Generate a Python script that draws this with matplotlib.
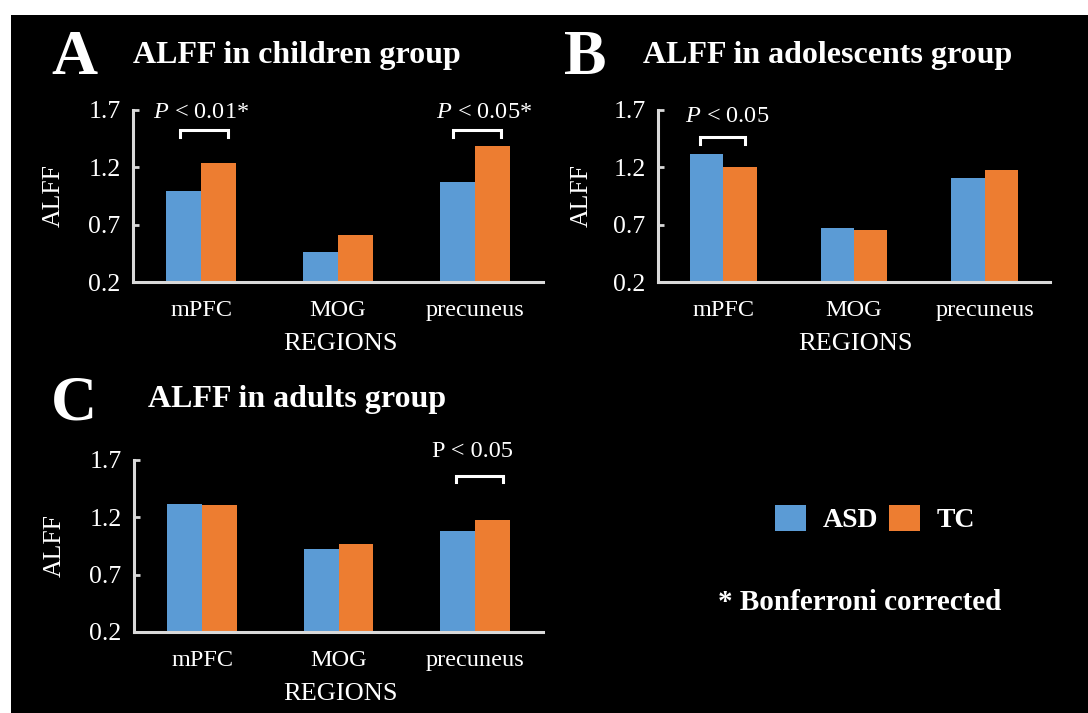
"""
ALFF by region in three age groups (ASD vs TC), black-background poster style.
"""

import numpy as np
import matplotlib
matplotlib.use('Agg')
import matplotlib.pyplot as plt
from matplotlib.patches import Rectangle

# data
regions = ['mPFC', 'MOG', 'precuneus']
children_asd = [0.99, 0.46, 1.07]
children_tc = [1.24, 0.61, 1.39]
adolescents_asd = [1.32, 0.67, 1.11]
adolescents_tc = [1.205, 0.65, 1.18]
adults_asd = [1.32, 0.92, 1.08]
adults_tc = [1.31, 0.97, 1.18]
yticks = [0.2, 0.7, 1.2, 1.7]

BLUE = '#5B9BD5'
ORANGE = '#ED7D31'
AXIS = '#D9D9D9'
W, H = 1088, 713

plt.rcParams['font.family'] = ['Liberation Serif', 'DejaVu Serif']
plt.rcParams['mathtext.fontset'] = 'custom'
plt.rcParams['mathtext.rm'] = 'Liberation Serif'
plt.rcParams['mathtext.it'] = 'Liberation Serif:italic'

fig = plt.figure(figsize=(W / 100, H / 100), dpi=100, facecolor='white')
# black poster background, white margin top/left
fig.patches.append(Rectangle((11 / W, 0), 1, 1 - 15 / H, transform=fig.transFigure,
                             facecolor='black', edgecolor='none', zorder=-10))


def px_axes(x0, x1, ytop, ybot):
    """Axes from pixel box (origin top-left)."""
    return fig.add_axes([x0 / W, 1 - ybot / H, (x1 - x0) / W, (ybot - ytop) / H])


def draw_panel(ax, asd, tc):
    x = np.arange(len(regions))
    bw = 0.255
    floor = yticks[0]
    bars_a = ax.bar(x - bw / 2, np.array(asd) - floor, bw, bottom=floor, color=BLUE, zorder=2)
    bars_t = ax.bar(x + bw / 2, np.array(tc) - floor, bw, bottom=floor, color=ORANGE, zorder=2)
    ax.set_xlim(-0.5, len(regions) - 0.5)
    ax.set_ylim(yticks[0], yticks[-1])
    ax.set_facecolor('none')
    for s in ['top', 'right']:
        ax.spines[s].set_visible(False)
    for s in ['left', 'bottom']:
        ax.spines[s].set_color(AXIS)
        ax.spines[s].set_linewidth(2.2)
    ax.set_yticks(yticks)
    ax.set_yticklabels([f'{v:.1f}' for v in yticks])
    ax.set_xticks(x)
    ax.set_xticklabels(regions)
    ax.tick_params(axis='y', direction='in', length=4.5, width=2, color=AXIS,
                   labelcolor='white', labelsize=18.5, pad=9)
    ax.tick_params(axis='x', length=0, labelcolor='white', labelsize=17.5, pad=13)
    ax.set_ylabel('ALFF', color='white', fontsize=18.5)
    ax.yaxis.set_label_coords(-0.166, 0.5)
    ax.set_xlabel('REGIONS', color='white', fontsize=19)
    ax.xaxis.label.set_va('center')
    ax.xaxis.set_label_coords(0.505, -0.36)
    return bars_a, bars_t


def bracket(ax, x0, x1, y, leg, label, ty, tx):
    ax.plot([x0, x0, x1, x1], [y - leg, y, y, y - leg], color='white', lw=2.2,
            clip_on=False, zorder=3, solid_joinstyle='miter')
    ax.text(tx, ty, label, color='white', fontsize=17.5, ha='center', va='center')


# A: children
axA = px_axes(133, 543, 110, 282)
hA = draw_panel(axA, children_asd, children_tc)
bracket(axA, -0.155, 0.195, 1.525, 0.06, r'$P$ < 0.01*', 1.675, 0.0)
bracket(axA, 1.845, 2.195, 1.525, 0.06, r'$P$ < 0.05*', 1.675, 2.07)

# B: adolescents
axB = px_axes(658, 1050, 110, 282)
draw_panel(axB, adolescents_asd, adolescents_tc)
bracket(axB, -0.175, 0.168, 1.464, 0.06, r'$P$ < 0.05', 1.645, 0.03)

# C: adults
axC = px_axes(134, 543, 460, 632)
draw_panel(axC, adults_asd, adults_tc)
bracket(axC, 1.863, 2.21, 1.56, 0.05, 'P < 0.05', 1.77, 1.98)

# panel letters and titles
for letter, (lx, ly) in zip('ABC', [(74, 59), (585, 59), (74, 404)]):
    fig.text(lx / W, 1 - ly / H, letter, color='white', fontsize=46,
             fontweight='bold', ha='center', va='center')
titles = [('ALFF in children group', 133, 55),
          ('ALFF in adolescents group', 643, 55),
          ('ALFF in adults group', 148, 400)]
for t, tx, ty in titles:
    fig.text(tx / W, 1 - ty / H, t, color='white', fontsize=23,
             fontweight='bold', ha='left', va='center')

# legend
fig.legend(hA, ['ASD', 'TC'], loc='center', bbox_to_anchor=(875 / W, 1 - 519 / H),
           ncol=2, frameon=False, handlelength=1.1, handleheight=1.1,
           handletextpad=0.6, columnspacing=0.4, labelcolor='white',
           prop={'weight': 'bold', 'size': 20, 'family': 'Liberation Serif'})
fig.text(860 / W, 1 - 602 / H, '* Bonferroni corrected', color='white', fontsize=21,
         fontweight='bold', ha='center', va='center')

fig.savefig('out.png', dpi=100, facecolor=fig.get_facecolor())
